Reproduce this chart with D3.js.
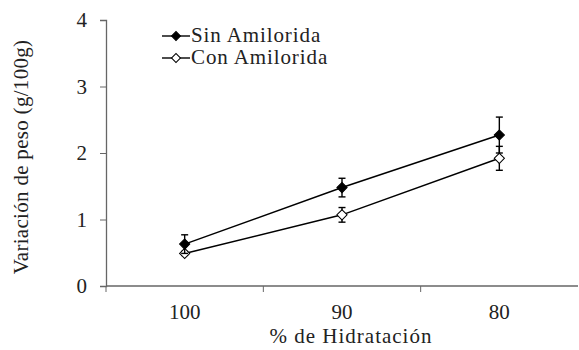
<!DOCTYPE html>
<html>
<head>
<meta charset="utf-8">
<script src="https://cdn.jsdelivr.net/npm/d3@7"></script>
<style>
   body { margin: 0; background: #fff; }
</style>
</head>
<body>
<svg id="chart" width="579" height="350"></svg>
<script>
// data
var categories = ["100", "90", "80"];
var sinValues = [0.63, 1.48, 2.27];
var sinErrors = [0.14, 0.14, 0.27];
var conValues = [0.49, 1.07, 1.92];
var conErrors = [0.03, 0.11, 0.18];
var yTicks = [0, 1, 2, 3, 4];

var margin = {left: 106, right: 1, top: 20, bottom: 64};
var width = 579, height = 350;
var serif = '"Liberation Serif", "Times New Roman", serif';
var fsize = 21;

window.onload = function() {
   drawChart();
};

function styleText(sel, spacing) {
   return sel.style("font-family", serif)
      .style("font-size", fsize + "px")
      .style("letter-spacing", spacing + "px")
      .attr("fill", "#222");
}

function drawChart() {
   var svg = d3.select("#chart");

   var x = d3.scaleBand()
      .domain(categories)
      .range([margin.left, width - margin.right])
      .padding(0);
   var y = d3.scaleLinear()
      .domain([0, 4])
      .range([height - margin.bottom, margin.top]);

   // y axis
   var yAxis = svg.append("g")
      .attr("transform", "translate(" + margin.left + ",0)")
      .call(d3.axisLeft(y).tickValues(yTicks).tickFormat(d3.format("d")).tickSize(6).tickPadding(13));
   // x axis
   var xAxis = svg.append("g")
      .attr("transform", "translate(0," + y(0) + ")")
      .call(d3.axisBottom(x).tickSize(0).tickPadding(18));

   // x ticks at band edges
   categories.forEach(function(c) {
      var e = x(c);
      xAxis.append("line")
         .attr("x1", e).attr("x2", e)
         .attr("y1", 0).attr("y2", 6)
         .attr("stroke", "#666");
   });

   [yAxis, xAxis].forEach(function(a) {
      a.attr("font-family", null).attr("font-size", null);
      a.select(".domain").attr("stroke", "#666").attr("stroke-width", 1.3);
      a.selectAll(".tick line").attr("stroke", "#666");
      styleText(a.selectAll("text"), 0);
   });
   xAxis.select(".domain").attr("d", "M" + margin.left + ",0H" + (width - margin.right));

   var cx = function(d, i) { return x(categories[i]) + x.bandwidth() / 2; };

   var series = [
      {values: conValues, errors: conErrors, fill: "#fff"},
      {values: sinValues, errors: sinErrors, fill: "#000"}
   ];

   var line = d3.line()
      .x(function(d, i) { return cx(d, i); })
      .y(function(d) { return y(d); });

   series.forEach(function(s) {
      svg.append("path")
         .datum(s.values)
         .attr("d", line)
         .attr("fill", "none")
         .attr("stroke", "#000")
         .attr("stroke-width", 1.5);
   });

   var diamond = d3.symbol().type(d3.symbolSquare).size(52);

   series.forEach(function(s) {
      var g = svg.append("g");
      s.values.forEach(function(v, i) {
         var px = cx(v, i);
         var top = y(v + s.errors[i]), bot = y(v - s.errors[i]);
         g.append("line").attr("x1", px).attr("x2", px)
            .attr("y1", top).attr("y2", bot)
            .attr("stroke", "#000").attr("stroke-width", 1.4);
         [top, bot].forEach(function(yy) {
            g.append("line").attr("x1", px - 3.5).attr("x2", px + 3.5)
               .attr("y1", yy).attr("y2", yy)
               .attr("stroke", "#000").attr("stroke-width", 1.4);
         });
      });
      g.selectAll("path.pt")
         .data(s.values)
         .enter().append("path")
         .attr("class", "pt")
         .attr("d", diamond)
         .attr("transform", function(d, i) { return "translate(" + cx(d, i) + "," + y(d) + ") rotate(45)"; })
         .attr("fill", s.fill)
         .attr("stroke", "#000")
         .attr("stroke-width", 1);
   });

   // legend
   var legend = [
      {label: "Sin Amilorida", fill: "#000", yy: 36},
      {label: "Con Amilorida", fill: "#fff", yy: 58}
   ];
   legend.forEach(function(l) {
      svg.append("line")
         .attr("x1", 162).attr("x2", 190)
         .attr("y1", l.yy).attr("y2", l.yy)
         .attr("stroke", "#000").attr("stroke-width", 1.4);
      svg.append("path")
         .attr("d", d3.symbol().type(d3.symbolSquare).size(40))
         .attr("transform", "translate(176," + l.yy + ") rotate(45)")
         .attr("fill", l.fill)
         .attr("stroke", "#000");
      styleText(svg.append("text"), 0.9)
         .attr("x", 191).attr("y", l.yy + 6)
         .text(l.label);
   });

   // axis titles
   styleText(svg.append("text"), 1.0)
      .attr("x", 351)
      .attr("y", 343)
      .attr("text-anchor", "middle")
      .text("% de Hidratación");
   styleText(svg.append("text"), 0.3)
      .attr("transform", "translate(28,157) rotate(-90)")
      .attr("text-anchor", "middle")
      .text("Variación de peso (g/100g)");
}
</script>
</body>
</html>
